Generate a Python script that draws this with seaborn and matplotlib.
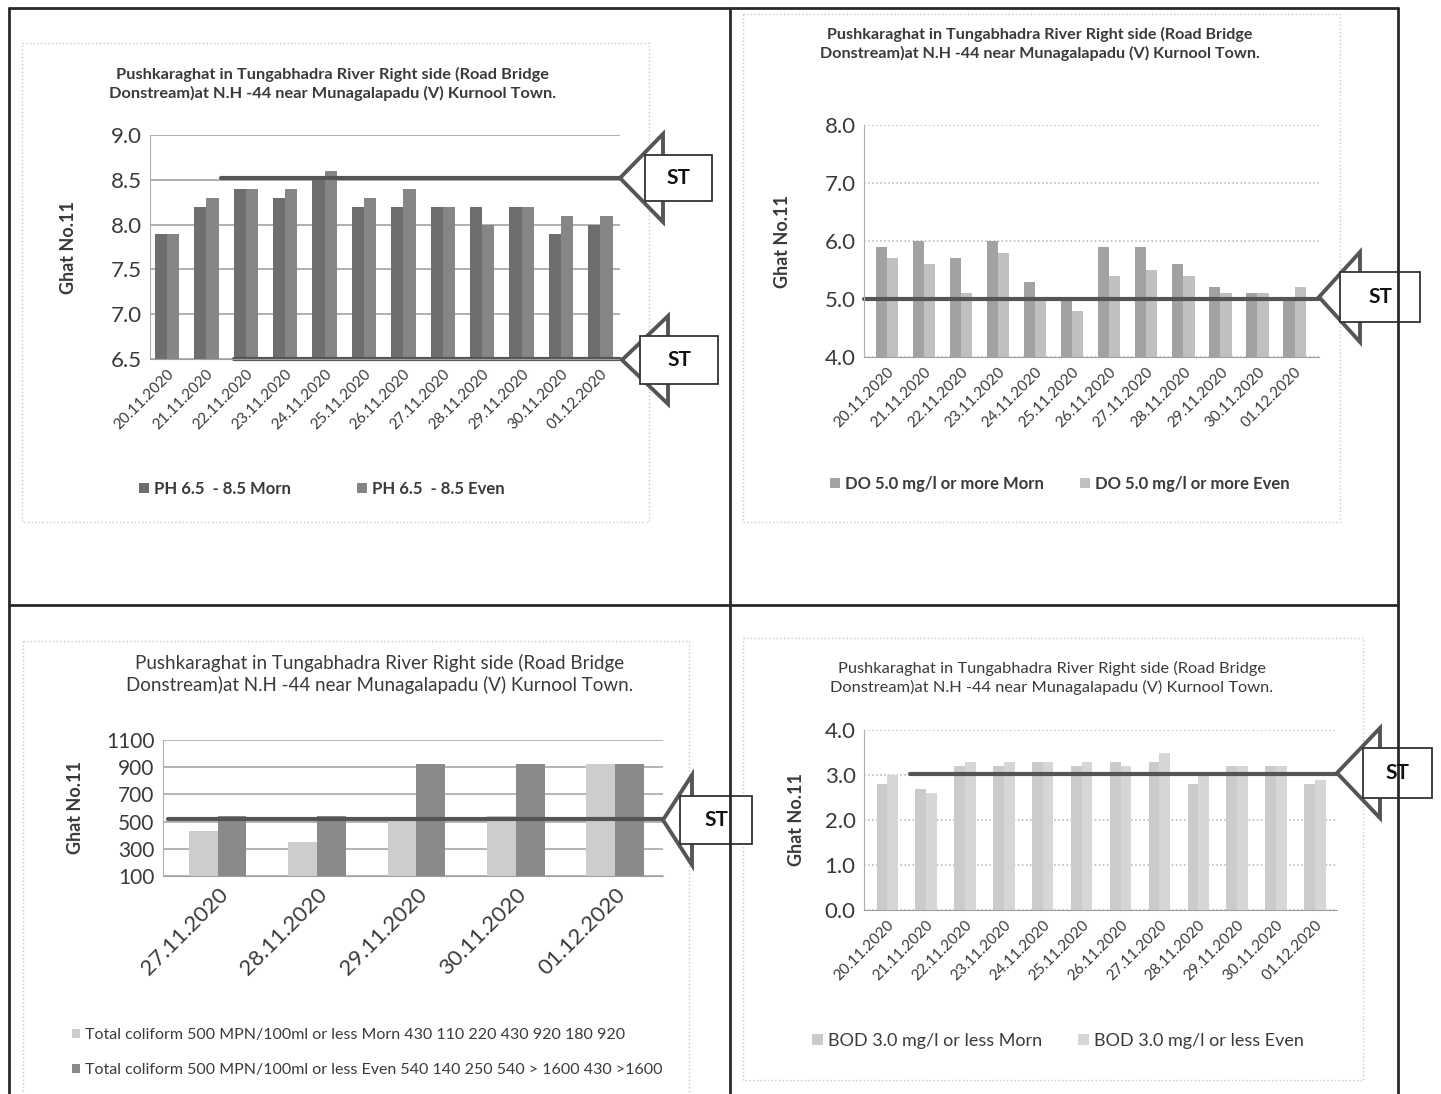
"""
Four-panel water quality charts (Ghat No.11, Tungabhadra River, Kurnool).
"""

import pandas as pd
import seaborn as sns
import matplotlib.pyplot as plt
from matplotlib.patches import Polygon, Rectangle

# ---------------------------
# Data
# ---------------------------
dates_12 = ["20.11.2020", "21.11.2020", "22.11.2020", "23.11.2020", "24.11.2020",
            "25.11.2020", "26.11.2020", "27.11.2020", "28.11.2020", "29.11.2020",
            "30.11.2020", "01.12.2020"]
dates_5 = ["27.11.2020", "28.11.2020", "29.11.2020", "30.11.2020", "01.12.2020"]

ph_morn = [7.9, 8.2, 8.4, 8.3, 8.5, 8.2, 8.2, 8.2, 8.2, 8.2, 7.9, 8.0]
ph_even = [7.9, 8.3, 8.4, 8.4, 8.6, 8.3, 8.4, 8.2, 8.0, 8.2, 8.1, 8.1]

do_morn = [5.9, 6.0, 5.7, 6.0, 5.3, 5.0, 5.9, 5.9, 5.6, 5.2, 5.1, 5.0]
do_even = [5.7, 5.6, 5.1, 5.8, 5.0, 4.8, 5.4, 5.5, 5.4, 5.1, 5.1, 5.2]

coli_morn = [430, 350, 530, 540, 920]
coli_even = [540, 540, 920, 920, 920]

bod_morn = [2.8, 2.7, 3.2, 3.2, 3.3, 3.2, 3.3, 3.3, 2.8, 3.2, 3.2, 2.8]
bod_even = [3.0, 2.6, 3.3, 3.3, 3.3, 3.3, 3.2, 3.5, 3.0, 3.2, 3.2, 2.9]

ph_names = ["PH 6.5  - 8.5 Morn", "PH 6.5  - 8.5 Even"]
do_names = ["DO 5.0 mg/l or more Morn", "DO 5.0 mg/l or more Even"]
coli_names = ["Total coliform 500 MPN/100ml or less Morn 430 110 220 430 920 180 920",
              "Total coliform 500 MPN/100ml or less Even 540 140 250 540 > 1600 430 >1600"]
bod_names = ["BOD 3.0 mg/l or less Morn", "BOD 3.0 mg/l or less Even"]

title_lines = ["Pushkaraghat in Tungabhadra River Right side (Road Bridge",
               "Donstream)at N.H -44 near Munagalapadu (V) Kurnool Town."]

# ---------------------------
# Layout helpers (pixel coordinates of the 1441x1094 page)
# ---------------------------
W, H = 1441, 1094
sns.set_style("white")
plt.rcParams["font.family"] = ["Lato", "DejaVu Sans"]
TXT = "#3a3a3a"

fig = plt.figure(figsize=(W / 100, H / 100), dpi=100)


def ax_at(l, t, r, b):
    return fig.add_axes([l / W, 1 - b / H, (r - l) / W, (b - t) / H])


def long_df(dates, morn, even, names):
    return pd.DataFrame({
        "date": dates * 2,
        "value": morn + even,
        "series": [names[0]] * len(dates) + [names[1]] * len(dates),
    })


def draw_panel(ax, df, colors, width, ylim, yticks, fmt, tick_fs, date_fs, rot,
               grid_style, grid_col):
    sns.barplot(data=df, x="date", y="value", hue="series", palette=colors,
                width=width, gap=0, edgecolor="none", legend=True, ax=ax)
    ax.set_ylim(*ylim)
    ax.set_yticks(yticks)
    ax.set_yticklabels([fmt.format(v) for v in yticks], fontsize=tick_fs, color=TXT)
    ax.grid(axis="y", color=grid_col, lw=1.1, ls=grid_style)
    ax.set_axisbelow(True)
    ax.set_xlabel("")
    ax.set_ylabel("Ghat No.11", fontsize=13, fontweight="bold", color=TXT)
    for s in ["top", "right"]:
        ax.spines[s].set_visible(False)
    ax.spines["left"].set_color("#b0b0b0")
    ax.spines["bottom"].set_color("#a0a0a0")
    ax.tick_params(axis="x", length=4, color="#a0a0a0", pad=2)
    ax.tick_params(axis="y", length=0, pad=6)
    plt.setp(ax.get_xticklabels(), rotation=rot, ha="right", rotation_mode="anchor",
             fontsize=date_fs, color=TXT)


# ---------------------------
# Panel 1: pH
# ---------------------------
ax1 = ax_at(150, 135, 620, 359)
draw_panel(ax1, long_df(dates_12, ph_morn, ph_even, ph_names), ["#6e6e6e", "#868686"],
           0.62, (6.5, 9.0), [6.5, 7.0, 7.5, 8.0, 8.5, 9.0], "{:.1f}", 16, 11, 45,
           "-", "#9a9a9a")
ax1.set_xlim(-0.43, 11.5)
ax1.axhline(8.52, xmin=(1.37 + 0.43) / 11.93, xmax=1, color="#555555", lw=3, clip_on=False)
ax1.axhline(6.5, xmin=(1.7 + 0.43) / 11.93, xmax=1, color="#555555", lw=3, clip_on=False)
ax1.yaxis.labelpad = 24
ax1.legend(loc="center", bbox_to_anchor=(322 / W, 1 - 489 / H), bbox_transform=fig.transFigure,
           ncol=2, frameon=False, handlelength=0.6, handleheight=0.6, handletextpad=0.3,
           columnspacing=4.0, prop={"size": 12, "weight": "bold"}, labelcolor=TXT)

# ---------------------------
# Panel 2: DO
# ---------------------------
ax2 = ax_at(864, 125, 1319, 357)
draw_panel(ax2, long_df(dates_12, do_morn, do_even, do_names), ["#a2a2a2", "#c0c0c0"],
           0.6, (4.0, 8.0), [4.0, 5.0, 6.0, 7.0, 8.0], "{:.1f}", 16, 11, 45,
           ":", "#b0b0b0")
ax2.set_xlim(-0.62, 11.66)
ax2.axhline(5.0, xmin=0, xmax=1, color="#555555", lw=3, clip_on=False)
ax2.yaxis.labelpad = 24
ax2.legend(loc="center", bbox_to_anchor=(1060 / W, 1 - 484 / H), bbox_transform=fig.transFigure,
           ncol=2, frameon=False, handlelength=0.6, handleheight=0.6, handletextpad=0.3,
           columnspacing=2.2, prop={"size": 12, "weight": "bold"}, labelcolor=TXT)

# ---------------------------
# Panel 3: Total coliform
# ---------------------------
ax3 = ax_at(163, 740, 663, 876)
draw_panel(ax3, long_df(dates_5, coli_morn, coli_even, coli_names), ["#cdcdcd", "#8a8a8a"],
           0.58, (100, 1100), [100, 300, 500, 700, 900, 1100], "{:d}", 15, 16, 45,
           "-", "#a0a0a0")
ax3.set_xlim(-0.55, 4.48)
ax3.axhline(520, xmin=0.01, xmax=1, color="#555555", lw=3, clip_on=False)
ax3.yaxis.labelpad = 16
ax3.legend(loc="upper left", bbox_to_anchor=(58 / W, 1 - 1014 / H), bbox_transform=fig.transFigure,
           ncol=1, frameon=False, handlelength=0.5, handleheight=0.5, handletextpad=0.3,
           labelspacing=1.3, prop={"size": 11.5}, labelcolor=TXT)

# ---------------------------
# Panel 4: BOD
# ---------------------------
ax4 = ax_at(864, 730, 1337, 910)
draw_panel(ax4, long_df(dates_12, bod_morn, bod_even, bod_names), ["#cbcbcb", "#d6d6d6"],
           0.55, (0.0, 4.0), [0.0, 1.0, 2.0, 3.0, 4.0], "{:.1f}", 16, 11, 45,
           ":", "#b0b0b0")
ax4.set_xlim(-0.6, 11.57)
ax4.axhline(3.03, xmin=(0.58 + 0.6) / 12.17, xmax=1, color="#555555", lw=3, clip_on=False)
ax4.yaxis.labelpad = 14
ax4.legend(loc="center", bbox_to_anchor=(1058 / W, 1 - 1041 / H), bbox_transform=fig.transFigure,
           ncol=2, frameon=False, handlelength=0.6, handleheight=0.6, handletextpad=0.3,
           columnspacing=2.0, prop={"size": 13}, labelcolor=TXT)

# ---------------------------
# Titles
# ---------------------------
fig.text(333 / W, 1 - 84 / H, "\n".join(title_lines), ha="center", va="center",
         fontsize=11.8, fontweight="bold", color=TXT, linespacing=1.35)
fig.text(1040 / W, 1 - 44 / H, "\n".join(title_lines), ha="center", va="center",
         fontsize=11.6, fontweight="bold", color=TXT, linespacing=1.35)
fig.text(380 / W, 1 - 674 / H, "\n".join(title_lines), ha="center", va="center",
         fontsize=13.5, color=TXT, linespacing=1.3)
fig.text(1052 / W, 1 - 678 / H, "\n".join(title_lines), ha="center", va="center",
         fontsize=11.8, color=TXT, linespacing=1.35)

# ---------------------------
# Page frame, chart boxes and ST callouts (overlay in pixel coordinates)
# ---------------------------
ov = fig.add_axes([0, 0, 1, 1], zorder=10)
ov.set_xlim(0, W)
ov.set_ylim(H, 0)
ov.axis("off")
ov.patch.set_visible(False)

for (l, t, r, b) in [(22, 43, 649, 522), (743, 14, 1340, 522),
                     (23, 641, 689, 1100), (743, 638, 1363, 1080)]:
    ov.add_patch(Rectangle((l, t), r - l, b - t, fill=False, ec="#c8c8c8", lw=1, ls=":"))

frame_kw = dict(color="#2a2a2a", lw=2)
ov.plot([9, 1398], [8, 8], **frame_kw)
ov.plot([9, 9], [8, H], **frame_kw)
ov.plot([1398, 1398], [8, H], **frame_kw)
ov.plot([730, 730], [8, H], **frame_kw)
ov.plot([9, 1398], [605, 605], **frame_kw)


def callout(tip_x, tip_y, head_x, head_half, box_l, box_r, box_half):
    ov.add_patch(Polygon([(tip_x, tip_y), (head_x, tip_y - head_half),
                          (head_x, tip_y + head_half)], closed=True,
                         fc="white", ec="#555555", lw=2.8, joinstyle="miter"))
    ov.add_patch(Rectangle((box_l, tip_y - box_half), box_r - box_l, 2 * box_half,
                           fc="white", ec="#333333", lw=1.3))
    ov.text((box_l + box_r) / 2, tip_y, "ST", ha="center", va="center",
            fontsize=15, fontweight="bold", color="#111111")


callout(620, 178, 663, 44, 645, 712, 23)
callout(622, 360, 668, 44, 640, 718, 24)
callout(1319, 297, 1360, 45, 1340, 1420, 25)
callout(663, 820, 692, 45, 680, 752, 24)
callout(1337, 773, 1380, 45, 1363, 1432, 25)

plt.savefig("out.png", dpi=100)
